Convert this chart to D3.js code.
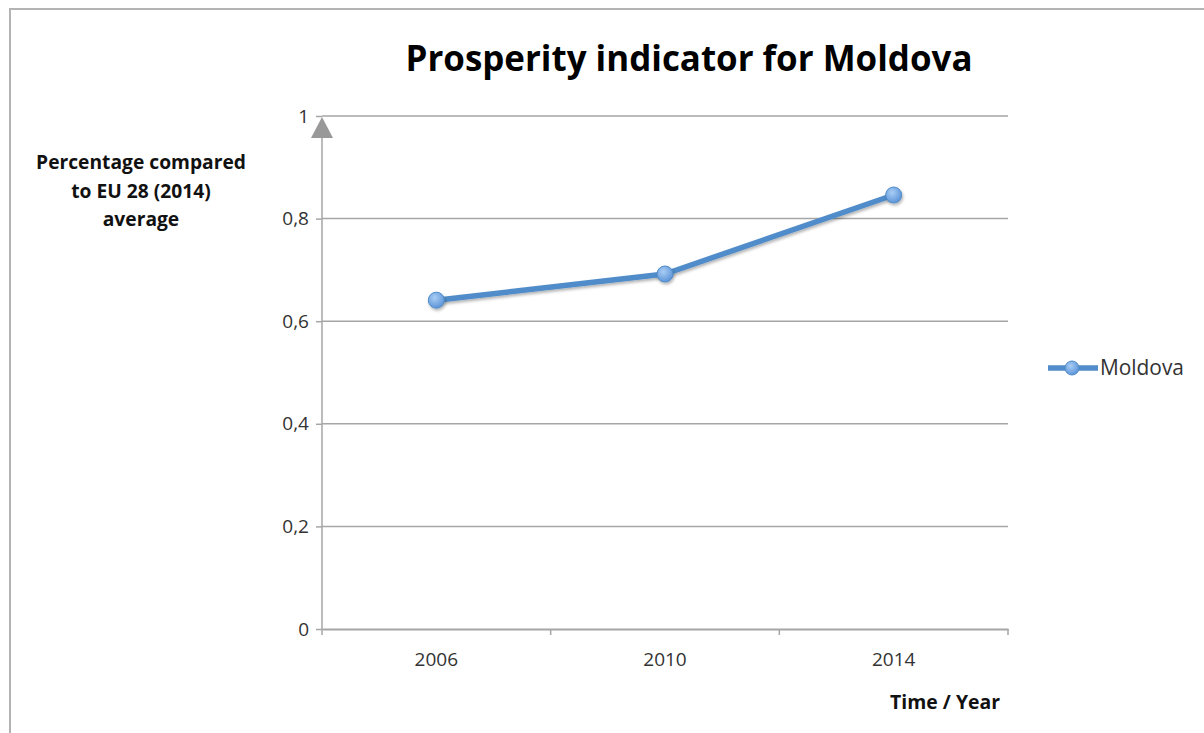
<!DOCTYPE html>
<html><head><meta charset="utf-8">
<script src="https://cdn.jsdelivr.net/npm/d3@7/dist/d3.min.js"></script>
<style>body{margin:0;background:#fff}svg{display:block}text{font-family:"Open Sans",sans-serif}</style>
</head><body>
<svg id="c" width="1204" height="733"></svg>
<script>
const categories = ["2006", "2010", "2014"];
const moldova = [0.641, 0.692, 0.846];
const yTicks = [0, 0.2, 0.4, 0.6, 0.8, 1];
const yTickLabels = ["0", "0,2", "0,4", "0,6", "0,8", "1"];
const seriesName = "Moldova";
const title = "Prosperity indicator for Moldova";
const yTitle = ["Percentage compared", "to EU 28 (2014)", "average"];
const xTitle = "Time / Year";

(function () {
const svg = d3.select("#c");
const pLeft = 322, pRight = 1008, pTop = 116, pBottom = 629;
const x = d3.scaleBand().domain(categories).range([pLeft, pRight]);
const y = d3.scaleLinear().domain([0, 1]).range([pBottom, pTop]);

// frame
svg.append("rect").attr("x", 10).attr("y", 9).attr("width", 1220).attr("height", 760)
  .attr("fill", "none").attr("stroke", "#b3b3b3").attr("stroke-width", 2);

function fit(sel, w) {
  const n = sel.node(); const cur = n.getComputedTextLength();
  const fs = parseFloat(sel.attr("font-size"));
  sel.attr("font-size", fs * w / cur);
}

// gridlines
svg.append("g").selectAll("line").data(yTicks.filter(d => d > 0)).join("line")
  .attr("x1", pLeft).attr("x2", pRight).attr("y1", d => y(d)).attr("y2", d => y(d))
  .attr("stroke", "#a6a6a6").attr("stroke-width", 1.5);

const tickFs = 19;
// y axis
const ya = svg.append("g").attr("transform", `translate(${pLeft},0)`)
  .call(d3.axisLeft(y).tickValues(yTicks).tickSize(6).tickFormat((d, i) => yTickLabels[i]));
ya.select(".domain").remove();
ya.selectAll(".tick line").attr("stroke", "#a6a6a6").attr("stroke-width", 1.5);
ya.selectAll(".tick text").attr("font-size", tickFs).attr("fill", "#333").attr("x", -13)
  .attr("font-family", "Open Sans");
svg.append("line").attr("x1", pLeft).attr("x2", pLeft).attr("y1", pTop + 18).attr("y2", pBottom)
  .attr("stroke", "#a6a6a6").attr("stroke-width", 1.5);
// arrow
svg.append("path").attr("d", `M${pLeft},${pTop + 1} L${pLeft + 11},${pTop + 22} L${pLeft - 11},${pTop + 22} Z`)
  .attr("fill", "#999");

// x axis
const xa = svg.append("g").attr("transform", `translate(0,${pBottom})`)
  .call(d3.axisBottom(x).tickSize(0).tickPadding(24));
xa.select(".domain").attr("stroke", "#a6a6a6").attr("stroke-width", 2);
xa.selectAll(".tick text").attr("font-size", tickFs).attr("fill", "#333").attr("font-family", "Open Sans");
const bounds = [pLeft, ...categories.map(c => x(c) + x.bandwidth())];
svg.append("g").selectAll("line").data(bounds).join("line")
  .attr("x1", d => d).attr("x2", d => d).attr("y1", pBottom).attr("y2", pBottom + 6)
  .attr("stroke", "#a6a6a6").attr("stroke-width", 1.5);

// series
const cx = d => x(d) + x.bandwidth() / 2;
const pts = categories.map((c, i) => [cx(c), y(moldova[i])]);
const defs = svg.append("defs");
const grad = defs.append("radialGradient").attr("id", "mk").attr("cx", "40%").attr("cy", "35%").attr("r", "65%");
grad.append("stop").attr("offset", "0%").attr("stop-color", "#a9cdf5");
grad.append("stop").attr("offset", "100%").attr("stop-color", "#5d95d8");
const sh = defs.append("filter").attr("id", "sh").attr("x", "-50%").attr("y", "-50%").attr("width", "200%").attr("height", "200%");
sh.append("feDropShadow").attr("dx", 1).attr("dy", 2).attr("stdDeviation", 1.5).attr("flood-color", "#000").attr("flood-opacity", 0.3);

svg.append("path").attr("d", d3.line()(pts)).attr("fill", "none")
  .attr("stroke", "#4f8cc9").attr("stroke-width", 5.5).attr("stroke-linejoin", "round").attr("filter", "url(#sh)");
svg.append("g").selectAll("circle").data(pts).join("circle")
  .attr("cx", d => d[0]).attr("cy", d => d[1]).attr("r", 8)
  .attr("fill", "url(#mk)").attr("stroke", "#4f8cc9").attr("stroke-width", 1).attr("filter", "url(#sh)");

// legend
svg.append("line").attr("x1", 1048).attr("x2", 1098).attr("y1", 368).attr("y2", 368)
  .attr("stroke", "#4f8cc9").attr("stroke-width", 5.5);
svg.append("circle").attr("cx", 1072).attr("cy", 368).attr("r", 7)
  .attr("fill", "url(#mk)").attr("stroke", "#4f8cc9").attr("stroke-width", 1);
const lt = svg.append("text").attr("x", 1100).attr("y", 375).attr("font-size", 19).attr("fill", "#333").text(seriesName);
fit(lt, 84);

// title
const tt = svg.append("text").attr("x", 689).attr("y", 71).attr("text-anchor", "middle")
  .attr("font-size", 34).attr("font-weight", "bold").attr("fill", "#000").text(title);
fit(tt, 567);

// y title
const yt = svg.append("g");
let yfs = 16;
yTitle.forEach((s, i) => {
  const t = yt.append("text").attr("x", 141).attr("y", 169 + i * 28.5).attr("text-anchor", "middle")
    .attr("font-size", yfs).attr("font-weight", "bold").attr("fill", "#111").text(s);
  if (i === 0) { fit(t, 210); yfs = t.attr("font-size"); }
});

// x title
const xt = svg.append("text").attr("x", 1000).attr("y", 709).attr("text-anchor", "end")
  .attr("font-size", 17).attr("font-weight", "bold").attr("fill", "#111").text(xTitle);
fit(xt, 110);
})();
</script>
</body></html>
